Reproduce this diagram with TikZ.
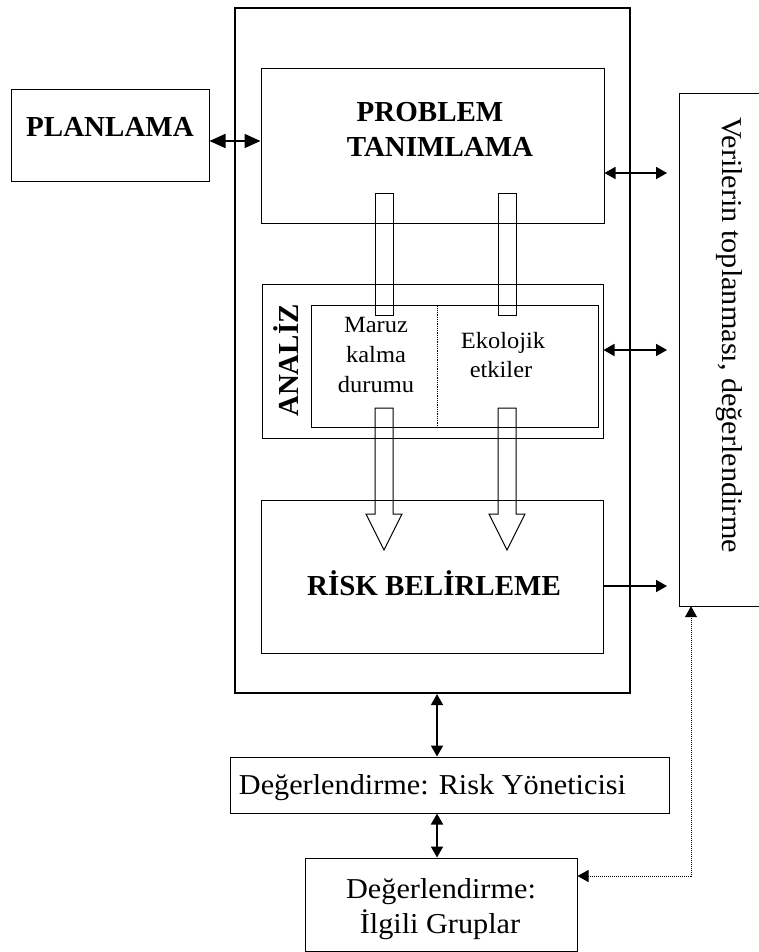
\documentclass[tikz,border=0pt]{standalone}
\usepackage{fontspec}
\setmainfont{Liberation Serif}
\newfontfamily\widef[FakeStretch=1.05]{Liberation Serif}
\usetikzlibrary{arrows.meta}
\begin{document}
\begin{tikzpicture}[x=1pt,y=-1pt,
  box/.style={draw,line width=1pt,inner sep=0pt},
  bigbox/.style={draw,line width=2.2pt,inner sep=0pt},
  hd/.style={inner sep=0pt,font=\fontsize{29}{35}\selectfont\bfseries},
  tx/.style={inner sep=0pt,font=\widef\fontsize{28.8}{34}\selectfont},
  sm/.style={inner sep=0pt,font=\widef\fontsize{23.3}{30}\selectfont},
  hol/.style={draw,line width=1pt},
  dbl/.style={line width=1.8pt,{Triangle[length=11pt,width=12pt]}-{Triangle[length=11pt,width=12pt]}},
  dblbig/.style={line width=1.8pt,{Triangle[length=16pt,width=14pt]}-{Triangle[length=16pt,width=14pt]}},
  arr/.style={line width=1.8pt,-{Triangle[length=11pt,width=12pt]}},
  dotarr/.style={line width=1pt,densely dotted,{Triangle[length=11pt,width=12pt]}-{Triangle[length=11pt,width=12pt]}}
]
\useasboundingbox (0,0) rectangle (759,952);

% boxes
\node[bigbox,minimum width=395pt,minimum height=685pt] (outer) at (432.5,350.5) {};
\node[box,minimum width=343pt,minimum height=154pt] (prob) at (432.5,146) {};
\node[box,minimum width=198pt,minimum height=92pt] (plan) at (110,136) {};
\node[box,minimum width=341pt,minimum height=154pt] (anl) at (432.5,361) {};
\node[box,minimum width=287pt,minimum height=122pt] (anlin) at (454.5,366) {};
\node[box,minimum width=342pt,minimum height=153pt] (risk) at (432,576.5) {};
\node[box,minimum width=439pt,minimum height=56pt] (rym) at (449.5,785) {};
\node[box,minimum width=272pt,minimum height=93pt] (ilg) at (441,904.5) {};
\node[inner sep=0pt,minimum width=80pt,minimum height=512pt] (veri) at (720,350) {};
\draw[line width=1pt] (veri.north east) -- (veri.north west) -- (veri.south west) -- (veri.south east);

% divider in analysis box
\draw[line width=0.8pt,densely dotted] (anlin.north -| 437,0) -- (anlin.south -| 437,0);

% texts
\node[hd,anchor=base] (tplan) at (110,137) {PLANLAMA};
\node[hd,anchor=base] (tprob1) at (430,122) {PROBLEM};
\node[hd,anchor=base] (tprob2) at (440,157) {TANIMLAMA};
\node[hd,anchor=base] (trisk) at (434,595) {RİSK BELİRLEME};
\node[hd,anchor=base,rotate=90] (tanl) at (298,360.5) {ANALİZ};
\node[sm,anchor=base] (m1) at (376,332) {Maruz};
\node[sm,anchor=base] (m2) at (376,362) {kalma};
\node[sm,anchor=base] (m3) at (376,392) {durumu};
\node[sm,anchor=base] (e1) at (503,348) {Ekolojik};
\node[sm,anchor=base] (e2) at (501,377) {etkiler};
\node[tx,anchor=base,rotate=-90] (tveri) at (722,335) {Verilerin toplanması, değerlendirme};
\node[tx,anchor=base] (trym) at (432.5,794) {Değerlendirme: Risk Yöneticisi};
\node[tx,anchor=base] (tilg1) at (441,898) {Değerlendirme:};
\node[tx,anchor=base] (tilg2) at (440,933) {İlgili Gruplar};

% hollow connectors
\draw[hol] (375,193) rectangle (393,315);
\draw[hol] (498,193) rectangle (516,315);
\draw[hol] (375,408) -- (375,514) -- (366,514) -- (384,550) -- (402,514) -- (393,514) -- (393,408) -- cycle;
\draw[hol] (498,408) -- (498,514) -- (489,514) -- (507,550) -- (525,514) -- (516,514) -- (516,408) -- cycle;

% arrows
\coordinate (r1) at (667,173);
\coordinate (r2) at (667,350);
\coordinate (r3) at (667,586);
\coordinate (ax) at (437,0);
\coordinate (dx) at (691,876);
\draw[dblbig] (plan.east |- 0,141) -- (prob.west |- 0,141);
\draw[dbl] (prob.east |- r1) -- (r1);
\draw[dbl] (anl.east |- r2) -- (r2);
\draw[arr] (risk.east |- r3) -- (r3);
\draw[dbl] (outer.south -| ax) -- (rym.north -| ax);
\draw[dbl] (rym.south -| ax) -- (ilg.north -| ax);
\draw[dotarr] (ilg.east |- dx) -- (dx) -- (veri.south -| dx);
\end{tikzpicture}
\end{document}
